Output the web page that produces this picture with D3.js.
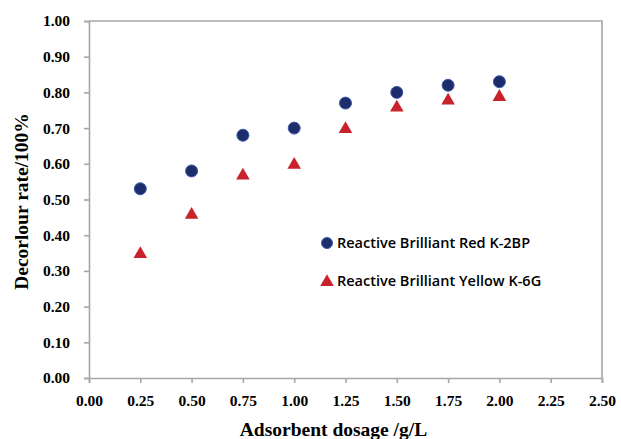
<!DOCTYPE html>
<meta charset="utf-8">
<style>
body { margin: 0; background: #fff; }
.tick text { font: bold 15.5px "Liberation Serif", "Times New Roman", serif; fill: #000; }
.axis path, .axis line { stroke: #a6a6a6; stroke-width: 1.6px; }
.legend text { font: 600 14.5px "Open Sans", "DejaVu Sans", sans-serif; fill: #000; }
.title { font: bold 19.5px "Liberation Serif", "Times New Roman", serif; fill: #000; }
</style>
<body>
<script src="https://cdn.jsdelivr.net/npm/d3@7"></script>
<script>

var dosage = [0.25, 0.5, 0.75, 1.0, 1.25, 1.5, 1.75, 2.0];
var redK2BP = [0.53, 0.58, 0.68, 0.70, 0.77, 0.80, 0.82, 0.83];
var yellowK6G = [0.35, 0.46, 0.57, 0.60, 0.70, 0.76, 0.78, 0.79];
var xTicks = [0, 0.25, 0.5, 0.75, 1.0, 1.25, 1.5, 1.75, 2.0, 2.25, 2.5];
var yTicks = [0, 0.1, 0.2, 0.3, 0.4, 0.5, 0.6, 0.7, 0.8, 0.9, 1.0];
var seriesNames = ["Reactive Brilliant Red K-2BP", "Reactive Brilliant Yellow K-6G"];

var width = 621,
    height = 439,
    margin = {top: 21, right: 19, bottom: 61, left: 89};

var x = d3.scaleLinear().domain([0, 2.5]).range([margin.left, width - margin.right]);
var y = d3.scaleLinear().domain([0, 1]).range([height - margin.bottom, margin.top]);

var svg = d3.select("body").append("svg")
    .attr("width", width)
    .attr("height", height);

// frame (top and right)
svg.append("path")
    .attr("d", "M" + x(0) + "," + y(1) + "H" + x(2.5) + "V" + y(0))
    .attr("fill", "none")
    .attr("stroke", "#a6a6a6")
    .attr("stroke-width", 1.6);

svg.append("g")
    .attr("class", "axis")
    .attr("transform", "translate(0," + y(0) + ")")
    .call(d3.axisBottom(x).tickValues(xTicks).tickFormat(d3.format(".2f")).tickSizeOuter(0).tickSize(5).tickPadding(12));

svg.append("g")
    .attr("class", "axis")
    .attr("transform", "translate(" + x(0) + ",0)")
    .call(d3.axisLeft(y).tickValues(yTicks).tickFormat(d3.format(".2f")).tickSizeOuter(0).tickSize(5).tickPadding(14));

svg.append("text")
    .attr("class", "title")
    .attr("text-anchor", "middle")
    .attr("transform", "translate(28," + (y(0.5) + 2) + ") rotate(-90)")
    .text("Decorlour rate/100%");

svg.append("text")
    .attr("class", "title")
    .attr("text-anchor", "middle")
    .attr("x", x(1.25) - 12)
    .attr("y", 436)
    .text("Adsorbent dosage /g/L");

var triangle = d3.symbol().type(d3.symbolTriangle).size(80);

svg.append("g").selectAll("circle")
    .data(dosage)
  .enter().append("circle")
    .attr("cx", function(d) { return x(d); })
    .attr("cy", function(d, i) { return y(redK2BP[i]); })
    .attr("r", 6)
    .attr("fill", "#1d2c6b")
    .attr("stroke", "#3b5aa8")
    .attr("stroke-width", 1);

svg.append("g").selectAll("path")
    .data(dosage)
  .enter().append("path")
    .attr("d", triangle)
    .attr("transform", function(d, i) { return "translate(" + x(d) + "," + (y(yellowK6G[i]) + 1) + ")"; })
    .attr("fill", "#c8232c");

// legend
var legend = svg.append("g").attr("class", "legend");
legend.append("circle")
    .attr("cx", 327).attr("cy", 243).attr("r", 5.5)
    .attr("fill", "#1d2c6b").attr("stroke", "#3b5aa8");
legend.append("text").attr("x", 337).attr("y", 248).text(seriesNames[0]);
legend.append("path")
    .attr("d", triangle)
    .attr("transform", "translate(327,282)")
    .attr("fill", "#c8232c");
legend.append("text").attr("x", 337).attr("y", 286).text(seriesNames[1]);

</script>
</body>
</html>
